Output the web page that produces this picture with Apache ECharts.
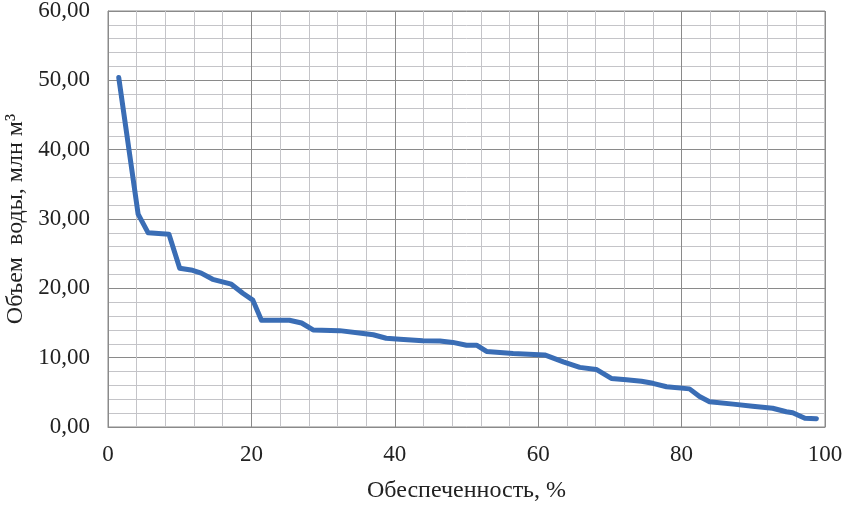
<!DOCTYPE html>
<html>
<head>
<meta charset="utf-8">
<script src="https://cdn.jsdelivr.net/npm/echarts@6/dist/echarts.min.js"></script>
<style>html,body{margin:0;padding:0;background:#fff}#c{width:845px;height:507px}</style>
</head>
<body>
<div id="c"></div>
<script>
const probability = [1.5, 4.2, 5.6, 8.5, 10.0, 11.8, 13.0, 14.6, 17.2, 18.8, 20.2, 21.4, 25.3, 27.0, 28.6, 32.3, 35.6, 37.0, 38.8, 40.7, 43.9, 46.3, 48.1, 50.0, 51.4, 52.8, 56.5, 60.9, 63.5, 65.8, 68.1, 70.2, 72.3, 74.4, 76.0, 77.9, 81.1, 82.5, 83.9, 87.2, 89.9, 92.7, 94.6, 95.5, 97.2, 98.8];
const volume = [50.4, 30.7, 28.0, 27.8, 22.9, 22.6, 22.2, 21.3, 20.6, 19.3, 18.3, 15.4, 15.4, 15.0, 14.0, 13.9, 13.5, 13.3, 12.8, 12.65, 12.45, 12.4, 12.2, 11.8, 11.8, 10.9, 10.6, 10.4, 9.4, 8.6, 8.3, 7.0, 6.8, 6.6, 6.3, 5.8, 5.5, 4.4, 3.65, 3.3, 3.0, 2.7, 2.2, 2.06, 1.25, 1.2];
const xTitle = 'Обеспеченность, %';
const yTitle = 'Объем  воды, млн м³';

const chart = echarts.init(document.getElementById('c'), null, {renderer: 'canvas'});
const font = '"Liberation Serif", "Times New Roman", serif';
chart.setOption({
  animation: false,
  backgroundColor: '#ffffff',
  grid: {left: 108, top: 11, right: 20, bottom: 80, containLabel: false, outerBoundsMode: 'none',
    show: true, borderColor: '#8a8a8a', borderWidth: 1},
  xAxis: {
    type: 'value', min: 0, max: 100, interval: 20,
    name: xTitle, nameLocation: 'middle', nameGap: 52,
    nameTextStyle: {fontFamily: font, fontSize: 24, color: '#222'},
    axisLine: {show: true, lineStyle: {color: '#8a8a8a'}},
    axisTick: {show: false},
    axisLabel: {fontFamily: font, fontSize: 23, color: '#222', margin: 16},
    splitLine: {show: true, lineStyle: {color: '#8a8a8a', width: 1}},
    minorTick: {show: false, splitNumber: 5},
    minorSplitLine: {show: true, lineStyle: {color: '#c4c4c8', width: 1}}
  },
  yAxis: {
    type: 'value', min: 0, max: 60, interval: 10,
    name: yTitle, nameLocation: 'middle', nameGap: 76, nameRotate: 90,
    nameTextStyle: {fontFamily: font, fontSize: 24, color: '#222'},
    axisLine: {show: true, lineStyle: {color: '#8a8a8a'}},
    axisTick: {show: false},
    axisLabel: {fontFamily: font, fontSize: 23, color: '#222', margin: 18,
      formatter: v => v.toFixed(2).replace('.', ',')},
    splitLine: {show: true, lineStyle: {color: '#8a8a8a', width: 1}},
    minorTick: {show: false, splitNumber: 5},
    minorSplitLine: {show: true, lineStyle: {color: '#c4c4c8', width: 1}}
  },
  series: [{
    type: 'line',
    data: probability.map((p, i) => [p, volume[i]]),
    showSymbol: false, symbol: 'none',
    lineStyle: {color: '#3a6db5', width: 5, cap: 'round', join: 'round'}
  }]
});
</script>
</body>
</html>
